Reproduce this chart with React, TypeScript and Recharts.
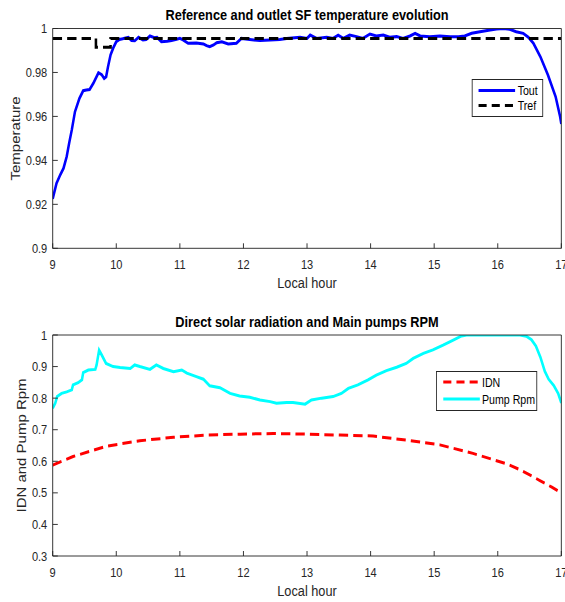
import React from 'react';
import { LineChart, Line, XAxis, YAxis, Legend } from 'recharts';

// ---------- data ----------
const xTicks = [9, 10, 11, 12, 13, 14, 15, 16, 17];
const tempTicks = [0.9, 0.92, 0.94, 0.96, 0.98, 1];
const rpmTicks = [0.3, 0.4, 0.5, 0.6, 0.7, 0.8, 0.9, 1];

const toutHours = [
  9.0, 9.06, 9.12, 9.17, 9.22, 9.26, 9.3, 9.35, 9.42, 9.48, 9.53, 9.58, 9.64, 9.72, 9.77, 9.81, 9.84, 9.87, 9.91, 9.95,
  10.0, 10.05, 10.1, 10.19, 10.24, 10.29, 10.35, 10.42, 10.47, 10.53, 10.6, 10.64, 10.71, 10.8, 10.87, 10.95,
  11.0, 11.05, 11.13, 11.26, 11.37, 11.42, 11.47, 11.53, 11.58, 11.66, 11.76, 11.89, 11.97,
  12.1, 12.26, 12.42, 12.57, 12.68, 12.89, 13.0, 13.05, 13.15, 13.31, 13.41, 13.49, 13.57, 13.67, 13.78, 13.88, 13.99,
  14.09, 14.2, 14.3, 14.41, 14.51, 14.62, 14.7, 14.78, 14.93, 15.09, 15.25, 15.38, 15.48, 15.59, 15.72, 15.88, 15.98,
  16.09, 16.19, 16.29, 16.4, 16.48, 16.56, 16.67, 16.79, 16.91, 16.98, 17.0,
];
const toutValues = [
  0.9225, 0.9296, 0.9335, 0.9364, 0.9417, 0.948, 0.9538, 0.9621, 0.9682, 0.9717, 0.972, 0.9722, 0.9751, 0.9799, 0.979, 0.9773, 0.978, 0.9826, 0.988, 0.991,
  0.994, 0.995, 0.9953, 0.996, 0.9945, 0.9944, 0.996, 0.9948, 0.995, 0.9966, 0.9958, 0.996, 0.994, 0.9942, 0.9945, 0.9951,
  0.9955, 0.9948, 0.9933, 0.9934, 0.993, 0.9922, 0.9917, 0.9925, 0.9935, 0.994, 0.993, 0.9933, 0.9955,
  0.995, 0.9945, 0.9948, 0.995, 0.9955, 0.996, 0.9955, 0.997, 0.9955, 0.996, 0.9955, 0.997, 0.9955, 0.997, 0.9963, 0.9955, 0.9975,
  0.9966, 0.997, 0.996, 0.9963, 0.9955, 0.9966, 0.9978, 0.9966, 0.9963, 0.9966, 0.9963, 0.9963, 0.9966, 0.9978, 0.9985, 0.9993, 0.9998,
  1.0, 0.9996, 0.9985, 0.9978, 0.996, 0.9933, 0.9872, 0.9788, 0.969, 0.96, 0.9566,
];

const trefHours = [9, 9.68, 9.68, 9.91, 9.91, 17];
const trefValues = [0.9955, 0.9955, 0.9915, 0.9915, 0.9955, 0.9955];

const idnHours = [9.0, 9.32, 9.85, 10.37, 10.9, 11.42, 11.95, 12.47, 13.0, 13.52, 14.04, 14.56, 15.09, 15.61, 16.14, 16.33, 16.51, 16.67, 16.85, 17.0];
const idnValues = [0.588, 0.615, 0.648, 0.665, 0.676, 0.683, 0.686, 0.688, 0.686, 0.683, 0.68, 0.667, 0.652, 0.625, 0.592, 0.575, 0.556, 0.538, 0.518, 0.5];

const pumpHours = [
  9.0, 9.04, 9.07, 9.14, 9.22, 9.3, 9.32, 9.4, 9.46, 9.48, 9.56, 9.67, 9.69, 9.73, 9.77, 9.84, 9.95,
  10.06, 10.22, 10.29, 10.37, 10.53, 10.63, 10.74, 10.9, 11.03, 11.11, 11.26, 11.37, 11.47, 11.63, 11.79, 11.94,
  12.1, 12.26, 12.42, 12.52, 12.68, 12.78, 12.97, 13.07, 13.23, 13.41, 13.54, 13.65, 13.8, 13.96,
  14.09, 14.25, 14.41, 14.56, 14.67, 14.83, 14.98, 15.14, 15.3, 15.43, 15.51,
  16.35, 16.45, 16.53, 16.6, 16.67, 16.74, 16.8, 16.88, 16.95, 17.0,
];
const pumpValues = [
  0.768, 0.784, 0.805, 0.815, 0.82, 0.826, 0.842, 0.849, 0.858, 0.881, 0.889, 0.891, 0.905, 0.952, 0.937, 0.91, 0.9,
  0.897, 0.894, 0.905, 0.9, 0.891, 0.905, 0.894, 0.884, 0.889, 0.879, 0.868, 0.86, 0.839, 0.833, 0.815, 0.807,
  0.803, 0.794, 0.789, 0.784, 0.786, 0.786, 0.781, 0.794, 0.8, 0.805, 0.815, 0.831, 0.842, 0.858,
  0.873, 0.887, 0.898, 0.91, 0.926, 0.942, 0.953, 0.968, 0.984, 0.997, 1.0,
  1.0, 0.996, 0.985, 0.965, 0.93, 0.885, 0.86, 0.84, 0.815, 0.785,
];

const zip = (hs: number[], vs: number[]) => hs.map((h, i) => ({ h, v: vs[i] }));
const toutData = zip(toutHours, toutValues);
const trefData = zip(trefHours, trefValues);
const idnData = zip(idnHours, idnValues);
const pumpData = zip(pumpHours, pumpValues);

// ---------- style ----------
const K = 0.85; // horizontal squish of the reference rendering
const W = 665;
const FONT = "'Liberation Sans', Arial, Helvetica, sans-serif";
const AX = '#262626';
const LW = 3;

const fmt = (v: number) => String(Number(Number(v).toFixed(2)));

type Item = { name: string; color: string; dash?: string; y: number };

function LegendBox({ items, w, h, x1, x2, tx }: { items: Item[]; w: number; h: number; x1: number; x2: number; tx: number }) {
  return (
    <div style={{ width: w, height: h, boxSizing: 'border-box', border: `1px solid ${AX}`, background: '#fff', position: 'relative' }}>
      <svg width={w} height={h} style={{ position: 'absolute', left: -1, top: -1, overflow: 'visible' }}>
        {items.map((it) => (
          <g key={it.name}>
            <line x1={x1} x2={x2} y1={it.y} y2={it.y} stroke={it.color} strokeWidth={LW} strokeDasharray={it.dash} />
            <text x={tx} y={it.y} dominantBaseline="central" fontFamily={FONT} fontSize={12.5} fill="#000">
              {it.name}
            </text>
          </g>
        ))}
      </svg>
    </div>
  );
}

const yLabel = (text: string, x: number) => (props: any) => {
  const vb = props.viewBox || { y: 0, height: 0 };
  const cy = vb.y + vb.height / 2;
  return (
    <text x={x} y={cy} transform={`rotate(-90 ${x} ${cy})`} textAnchor="middle" dominantBaseline="central" fontFamily={FONT} fontSize={15} fill={AX}>
      {text}
    </text>
  );
};

const tickStyle = { fill: AX, fontSize: 13 };

export default function App() {
  return (
    <div
      style={{
        position: 'absolute',
        left: 0,
        top: 0,
        width: W,
        height: 602,
        transform: `scaleX(${K})`,
        transformOrigin: '0 0',
        fontFamily: FONT,
        background: '#fff',
      }}
    >
      <div style={{ position: 'absolute', left: 0, top: 0 }}>
        <LineChart width={W} height={300} margin={{ top: 27.5, right: 3.6, bottom: 11.7, left: 12 }}>
          <XAxis
            type="number"
            dataKey="h"
            domain={[9, 17]}
            ticks={xTicks}
            interval={0}
            allowDataOverflow
            height={40}
            tickSize={-5}
            tickMargin={16.2}
            stroke={AX}
            tick={tickStyle}
            label={{ value: 'Local hour', position: 'insideBottom', offset: 0, fontSize: 15, fill: AX }}
          />
          <XAxis
            xAxisId="t"
            orientation="top"
            type="number"
            dataKey="h"
            domain={[9, 17]}
            ticks={xTicks}
            interval={0}
            allowDataOverflow
            height={1}
            tickSize={-5}
            tick={false}
            stroke={AX}
            label={{ value: 'Reference and outlet SF temperature evolution', position: 'top', offset: 7.2, fontSize: 15, fontWeight: 'bold', fill: '#000' }}
          />
          <YAxis
            type="number"
            domain={[0.9, 1]}
            ticks={tempTicks}
            interval={0}
            allowDataOverflow
            width={50}
            tickSize={-6}
            tickMargin={12.4}
            stroke={AX}
            tick={tickStyle}
            tickFormatter={fmt}
            label={yLabel('Temperature', 17.6)}
          />
          <YAxis
            yAxisId="r"
            orientation="right"
            type="number"
            domain={[0.9, 1]}
            ticks={tempTicks}
            interval={0}
            allowDataOverflow
            width={1}
            tickSize={-6}
            tick={false}
            stroke={AX}
          />
          <Line data={toutData} dataKey="v" name="Tout" type="linear" stroke="#0000ff" strokeWidth={LW} dot={false} isAnimationActive={false} />
          <Line data={trefData} dataKey="v" name="Tref" type="linear" stroke="#000000" strokeWidth={LW} strokeDasharray="11 6" dot={false} isAnimationActive={false} />
          <Legend
            layout="vertical"
            align="center"
            verticalAlign="middle"
            wrapperStyle={{ position: 'absolute', left: 555, top: 79, width: 84, height: 38 }}
            content={() => (
              <LegendBox
                w={84}
                h={38}
                x1={8}
                x2={51}
                tx={54}
                items={[
                  { name: 'Tout', color: '#0000ff', y: 11.5 },
                  { name: 'Tref', color: '#000000', dash: '9.5 6', y: 26.5 },
                ]}
              />
            )}
          />
        </LineChart>
      </div>

      <div style={{ position: 'absolute', left: 0, top: 305 }}>
        <LineChart width={W} height={297} margin={{ top: 29, right: 3.6, bottom: 6, left: 12 }}>
          <XAxis
            type="number"
            dataKey="h"
            domain={[9, 17]}
            ticks={xTicks}
            interval={0}
            allowDataOverflow
            height={40}
            tickSize={-5}
            tickMargin={16.5}
            stroke={AX}
            tick={tickStyle}
            label={{ value: 'Local hour', position: 'insideBottom', offset: 0, fontSize: 15, fill: AX }}
          />
          <XAxis
            xAxisId="t"
            orientation="top"
            type="number"
            dataKey="h"
            domain={[9, 17]}
            ticks={xTicks}
            interval={0}
            allowDataOverflow
            height={1}
            tickSize={-5}
            tick={false}
            stroke={AX}
            label={{ value: 'Direct solar radiation and Main pumps RPM', position: 'top', offset: 7.2, fontSize: 15, fontWeight: 'bold', fill: '#000' }}
          />
          <YAxis
            type="number"
            domain={[0.3, 1]}
            ticks={rpmTicks}
            interval={0}
            allowDataOverflow
            width={50}
            tickSize={-6}
            tickMargin={12.4}
            stroke={AX}
            tick={tickStyle}
            tickFormatter={fmt}
            label={yLabel('IDN and Pump Rpm', 25.3)}
          />
          <YAxis
            yAxisId="r"
            orientation="right"
            type="number"
            domain={[0.3, 1]}
            ticks={rpmTicks}
            interval={0}
            allowDataOverflow
            width={1}
            tickSize={-6}
            tick={false}
            stroke={AX}
          />
          <Line data={idnData} dataKey="v" name="IDN" type="linear" stroke="#ff0000" strokeWidth={LW} strokeDasharray="11 6" dot={false} isAnimationActive={false} />
          <Line data={pumpData} dataKey="v" name="Pump Rpm" type="linear" stroke="#00ffff" strokeWidth={LW} dot={false} isAnimationActive={false} />
          <Legend
            layout="vertical"
            align="center"
            verticalAlign="middle"
            wrapperStyle={{ position: 'absolute', left: 512.6, top: 65.7, width: 119.5, height: 40 }}
            content={() => (
              <LegendBox
                w={119.5}
                h={40}
                x1={8.5}
                x2={51.5}
                tx={54}
                items={[
                  { name: 'IDN', color: '#ff0000', dash: '9.5 6', y: 11 },
                  { name: 'Pump Rpm', color: '#00ffff', y: 28 },
                ]}
              />
            )}
          />
        </LineChart>
      </div>
    </div>
  );
}
